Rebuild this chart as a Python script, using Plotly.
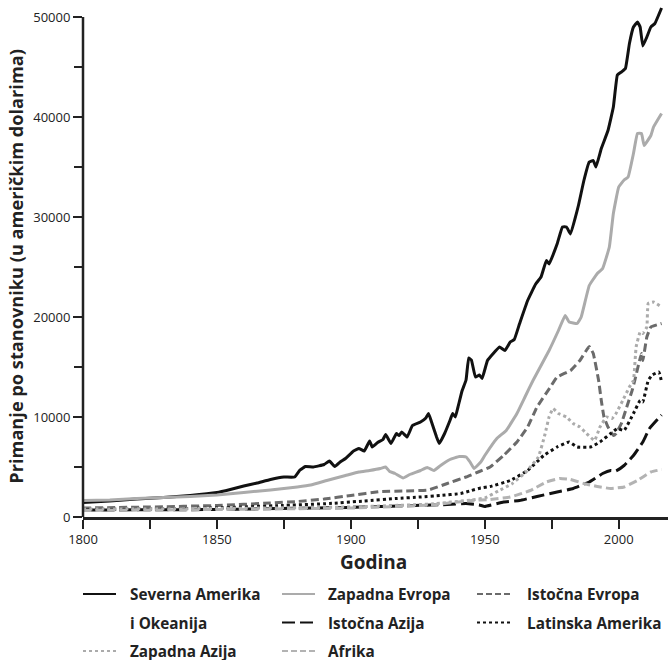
import plotly.graph_objects as go

# ---- data ----
na_years = [1800, 1810, 1820, 1830, 1840, 1850, 1855, 1860, 1865, 1870, 1875, 1879, 1881, 1883, 1886, 1890, 1892, 1894, 1896, 1898,
            1901, 1903, 1905, 1907, 1908, 1910, 1912, 1913, 1915, 1917, 1918, 1919, 1921, 1923, 1926, 1928, 1929, 1930, 1932, 1933,
            1935, 1937, 1938, 1939, 1940, 1941.5, 1943, 1944, 1945, 1946.5, 1948, 1949, 1951, 1953, 1955.5, 1957.5, 1959.5, 1961,
            1963, 1966, 1969, 1971, 1973, 1974, 1977, 1979, 1980.5, 1982, 1985, 1987, 1989, 1990.5, 1991.5, 1993.5, 1996, 1998,
            1999.5, 2001, 2002.5, 2004, 2005.5, 2007, 2008, 2009, 2010.5, 2012, 2013.5, 2016]
na_vals = [1450, 1600, 1800, 1950, 2150, 2450, 2750, 3100, 3400, 3750, 4000, 4000, 4700, 5050, 5000, 5250, 5600, 5050, 5500, 5850,
           6600, 6850, 6600, 7600, 7000, 7450, 7750, 8250, 7350, 8350, 8150, 8500, 8000, 9150, 9500, 9900, 10350, 9600, 8000, 7350,
           8350, 9650, 10350, 10000, 11000, 12600, 13700, 15900, 15700, 14000, 14200, 13850, 15650, 16300, 17000, 16650, 17500, 17750,
           19350, 21650, 23300, 24000, 25650, 25300, 27300, 29000, 29000, 28300, 31200, 33650, 35500, 35650, 35000, 36850, 38650, 41000,
           44200, 44500, 44850, 47350, 49000, 49500, 49000, 47100, 48000, 49000, 49350, 50900]

ze_years = [1800, 1810, 1820, 1830, 1840, 1850, 1860, 1870, 1875, 1880, 1885, 1891, 1898, 1903, 1907, 1911, 1913, 1914.5, 1916.5,
            1919.5, 1922, 1926, 1928.5, 1931, 1933.5, 1937, 1940.5, 1943, 1944.5, 1946, 1948.5, 1950, 1954.5, 1958, 1962, 1965,
            1968, 1974, 1977.5, 1980, 1981.5, 1984.5, 1986, 1989, 1992, 1994, 1996.5, 1998, 2000, 2002, 2003.5, 2005.5, 2007,
            2008.5, 2009.5, 2012, 2013, 2016]
ze_vals = [1650, 1700, 1850, 1950, 2050, 2200, 2450, 2700, 2850, 3000, 3200, 3650, 4150, 4500, 4650, 4850, 5000, 4550, 4350,
           3900, 4250, 4650, 4950, 4650, 5150, 5750, 6050, 6000, 5500, 4850, 5500, 6150, 7850, 8650, 10350, 12000,
           13650, 16650, 18650, 20150, 19500, 19350, 20000, 23150, 24350, 24850, 27000, 30350, 33000, 33700, 34000, 36350, 38350,
           38350, 37150, 38150, 39000, 40350]

ie_years = [1800, 1825, 1850, 1870, 1880, 1890, 1900, 1911, 1920, 1929, 1936, 1943, 1948, 1952, 1957, 1962, 1966, 1969.5, 1974.5,
            1977, 1982, 1985.5, 1989, 1990.5, 1992.5, 1993.5, 1994.5, 1996, 1998, 1999, 2001, 2003, 2005, 2006, 2007.5, 2008.5,
            2009, 2010.5, 2012, 2016]
ie_vals = [900, 1000, 1150, 1400, 1550, 1800, 2150, 2550, 2600, 2700, 3350, 4000, 4550, 5000, 6150, 7500, 9000, 11000, 13000,
           14000, 14650, 15650, 17050, 16350, 13650, 11650, 10000, 9000, 8150, 8350, 9350, 11000, 12650, 13650, 15350, 16350,
           15650, 18000, 19000, 19350]

ia_years = [1800, 1850, 1874, 1899, 1924, 1936, 1943, 1948, 1950, 1957, 1963, 1969.5, 1977, 1983, 1989, 1994, 1997, 1999, 2002,
            2005.5, 2009, 2011.5, 2016]
ia_vals = [700, 750, 850, 950, 1150, 1250, 1350, 1200, 1050, 1500, 1650, 2050, 2500, 2850, 3500, 4350, 4650, 4600, 5150,
           6150, 7500, 8850, 10200]

la_years = [1800, 1825, 1850, 1874, 1892, 1905, 1917, 1926, 1933.5, 1941, 1945, 1948.5, 1952, 1959.5, 1966, 1972, 1977, 1981.5,
            1984.5, 1989.5, 1993, 1997, 1999.5, 2002, 2005.5, 2008, 2009, 2011, 2012.5, 2015, 2016]
la_vals = [750, 800, 900, 1150, 1350, 1600, 1850, 2000, 2150, 2350, 2650, 2900, 3050, 3650, 4650, 6150, 7000, 7500,
           7000, 7000, 7500, 8350, 8850, 8650, 10350, 11650, 11500, 13650, 14200, 14500, 13500]

za_years = [1800, 1850, 1900, 1930, 1945, 1950, 1955, 1960, 1965, 1970, 1972.5, 1974, 1975.5, 1977.5, 1980.5, 1983, 1985.5, 1988,
            1991, 1993, 1995.5, 1997.5, 1999, 2001.5, 2004, 2005.5, 2006.5, 2008, 2009, 2010.5, 2011, 2013, 2016]
za_vals = [800, 850, 1000, 1300, 1700, 1900, 2600, 3300, 4400, 6000, 8300, 10000, 10850, 10350, 10000, 9350, 9000, 8350,
           7650, 9000, 10000, 9850, 10350, 11650, 13000, 13650, 17000, 18500, 18350, 19000, 21350, 21500, 21000]

af_years = [1800, 1850, 1900, 1930, 1945, 1952, 1959.5, 1967, 1973, 1978, 1982, 1987, 1992, 1997, 2002, 2007, 2012, 2016]
af_vals = [650, 750, 900, 1200, 1650, 1750, 2000, 2650, 3500, 3850, 3750, 3350, 3050, 2850, 3000, 3650, 4500, 4750]

names = ["Severna Amerika i Okeanija", "Zapadna Evropa", "Istočna Evropa", "Istočna Azija",
         "Latinska Amerika", "Zapadna Azija", "Afrika"]
x_ticks = [1800, 1850, 1900, 1950, 2000]
y_ticks = [0, 10000, 20000, 30000, 40000, 50000]

# ---- styles ----
series = [
    (na_years, na_vals, "#111111", "solid", names[0]),
    (ze_years, ze_vals, "#ababab", "solid", names[1]),
    (ie_years, ie_vals, "#6b6b6b", "8px,4px", names[2]),
    (ia_years, ia_vals, "#111111", "13px,5px", names[3]),
    (la_years, la_vals, "#111111", "3px,3px", names[4]),
    (za_years, za_vals, "#ababab", "3px,3px", names[5]),
    (af_years, af_vals, "#b3b3b3", "8px,4px", names[6]),
]

FONT = "Open Sans"
TXT = "#222222"

fig = go.Figure()
for xs, ys, col, dash, nm in series:
    fig.add_trace(go.Scatter(x=xs, y=ys, mode="lines", name=nm,
                             line=dict(color=col, width=3, dash=dash, shape="spline", smoothing=0.3),
                             showlegend=False))

W, H = 669, 660
L, R, T, B = 83, 1, 1, 143
pw, ph = W - L - R, H - T - B

def px(xp):
    return (xp - L) / pw

def py(yp):
    return (H - B - yp) / ph

fig.update_layout(
    width=W, height=H,
    margin=dict(l=L, r=R, t=T, b=B),
    paper_bgcolor="white", plot_bgcolor="white",
    font=dict(family=FONT, size=13, color=TXT),
    xaxis=dict(range=[1800, 2018.4], tickvals=x_ticks, ticks="outside", ticklen=9, tickwidth=1.5,
               tickcolor=TXT, showline=True, linewidth=2.5, linecolor=TXT, showgrid=False, zeroline=False,
               minor=dict(dtick=25, tick0=1800, ticks="outside", ticklen=9, tickwidth=1.5, tickcolor=TXT),
               tickfont=dict(size=13, family=FONT, color=TXT)),
    yaxis=dict(range=[0, 51600], tickvals=y_ticks, tickformat="d", ticks="outside", ticklen=9, tickwidth=1.5,
               tickcolor=TXT, showline=False, showgrid=False, zeroline=False,
               minor=dict(dtick=5000, tick0=0, ticks="outside", ticklen=8, tickwidth=1.5, tickcolor=TXT),
               tickfont=dict(size=13, family=FONT, color=TXT)),
)

# y axis line, only up to 50000
fig.add_shape(type="line", xref="paper", yref="y", x0=0, x1=0, y0=0, y1=50000,
              line=dict(color=TXT, width=2.5))

# axis titles
fig.add_annotation(text="<b>Primanje po stanovniku (u američkim dolarima)</b>", xref="paper", yref="paper",
                   x=px(16), y=py(266.7), textangle=-90, showarrow=False, xanchor="center", yanchor="middle",
                   font=dict(family=FONT, size=18.2, color=TXT))
fig.add_annotation(text="<b>Godina</b>", xref="paper", yref="paper",
                   x=px(373.5), y=py(562), showarrow=False, xanchor="center", yanchor="middle",
                   font=dict(family=FONT, size=19, color=TXT))

# manual legend
rows = [594, 622.5, 651]
legend_items = [
    (83, 116, 128, 0, "#111111", "solid", "Severna Amerika"),
    (None, None, 128, 1, None, None, "i Okeanija"),
    (83, 116, 128, 2, "#ababab", "3px,3px", names[5]),
    (282, 315, 326, 0, "#ababab", "solid", names[1]),
    (282, 315, 326, 1, "#111111", "13px,5px", names[3]),
    (282, 315, 326, 2, "#b3b3b3", "6px,3px", names[6]),
    (477, 513, 525, 0, "#6b6b6b", "6px,3px", names[2]),
    (477, 513, 525, 1, "#111111", "3px,3px", names[4]),
]
for x0, x1, tx, r, col, dash, lab in legend_items:
    yy = py(rows[r])
    if x0 is not None:
        fig.add_shape(type="line", xref="paper", yref="paper", x0=px(x0), x1=px(x1), y0=yy, y1=yy,
                      line=dict(color=col, width=2, dash=dash))
    fig.add_annotation(text="<b>" + lab + "</b>", xref="paper", yref="paper", x=px(tx), y=yy,
                       showarrow=False, xanchor="left", yanchor="middle",
                       font=dict(family=FONT, size=15.3, color=TXT))

fig.write_html("out.html", config={"displayModeBar": False},
               post_script="document.body.style.margin='0';document.body.style.overflow='hidden';")
